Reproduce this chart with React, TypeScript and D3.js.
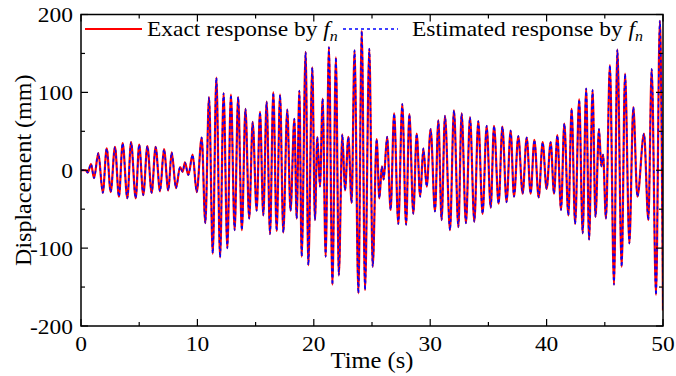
import React from "react";
import * as d3 from "d3";

// Time (s) of each turning point of the displacement record
const timeS = [
  0, 0.4, 0.58, 0.86, 1.12, 1.49, 1.87, 2.21, 2.55, 2.92, 3.26, 3.58, 3.98, 4.3, 4.7, 5.0,
  5.35, 5.7, 6.07, 6.41, 6.79, 7.13, 7.5, 7.79, 8.16, 8.51, 8.73, 8.93, 9.22, 9.59, 9.94,
  10.37, 10.68, 11.0, 11.32, 11.63, 11.95, 12.25, 12.57, 12.88, 13.2, 13.5, 13.82, 14.13,
  14.45, 14.75, 15.09, 15.38, 15.66, 15.95, 16.24, 16.52, 16.81, 17.1, 17.38, 17.72, 18.0,
  18.33, 18.53, 18.76, 18.96, 19.3, 19.53, 19.87, 20.1, 20.3, 20.53, 20.76, 21.02, 21.3,
  21.6, 21.9, 22.15, 22.45, 22.68, 22.97, 23.25, 23.5, 23.83, 24.12, 24.4, 24.77, 25.06,
  25.4, 25.63, 25.85, 26.0, 26.3, 26.6, 26.9, 27.26, 27.6, 27.93, 28.21, 28.55, 28.84,
  29.14, 29.41, 29.7, 30.04, 30.41, 30.7, 30.98, 31.27, 31.7, 32.04, 32.42, 32.7, 33.07,
  33.42, 33.79, 34.13, 34.5, 34.85, 35.2, 35.48, 35.88, 36.2, 36.56, 36.91, 37.2, 37.57,
  37.94, 38.29, 38.63, 38.95, 39.32, 39.66, 40.0, 40.35, 40.64, 40.92, 41.24, 41.52, 41.87,
  42.15, 42.45, 42.8, 43.1, 43.4, 43.65, 43.95, 44.2, 44.5, 44.7, 44.85, 45.1, 45.44, 45.79,
  46.08, 46.45, 46.74, 47.11, 47.45, 47.8, 48.37, 48.74, 49.03, 49.4, 49.73, 50,
];

// Exact response (mm) at those times
const exactMm = [
  0, 0, -3, 8, -10, 22, -29, 28, -28, 30, -34, 35, -36, 36, -36, 33,
  -32, 31, -29, 30, -27, 27, -26, 23, -23, 4, -2, 10, -6, 20, -28,
  42, -68, 94, -107, 119, -112, 99, -100, 97, -77, 94, -77, 79,
  -62, 62, -52, 75, -58, 88, -82, 100, -78, 97, -80, 78, -52,
  66, -62, 102, -111, 152, -122, 132, -64, 43, -21, 92, -111, 158,
  -147, 145, -135, 46, -26, 43, -42, 154, -158, 179, -154, 156, -124,
  40, -36, 5, -12, 43, -51, 73, -69, 85, -70, 72, -56, 47,
  -34, 28, -21, 53, -53, 64, -64, 70, -77, 77, -73, 73, -68,
  68, -66, 63, -56, 57, -48, 57, -43, 56, -41, 51, -34, 44,
  -30, 42, -30, 39, -35, 36, -24, 36, -30, 45, -51, 60, -58,
  79, -69, 91, -81, 105, -89, 103, -60, 53, 5, 20, -62, 135, -147,
  155, -124, 124, -94, 81, -34, 47, -64, 130, -160, 192, -180,
];

// Estimated response (mm): coincides with the exact one in the picture
const estimatedMm = exactMm.slice();

const xTicks = [0, 10, 20, 30, 40, 50];
const xMinorTicks = [5, 15, 25, 35, 45];
const yTicks = [-200, -100, 0, 100, 200];
const yMinorTicks = [-150, -50, 50, 150];
const legendLabels = ["Exact response by ", "Estimated response by "];
const xTitle = "Time (s)";
const yTitle = "Displacement (mm)";

const FONT = "'Liberation Serif', 'Times New Roman', serif";
const SX = 1.065; // horizontal stretch of the reference's lettering

export default function App() {
  const W = 676;
  const H = 376;
  const L = 81, R = 663, T = 14.5, B = 326;
  const x = d3.scaleLinear().domain([0, 50]).range([L, R]);
  const y = d3.scaleLinear().domain([-200, 200]).range([B, T]);

  const line = d3
    .line<number>()
    .x((_, i) => x(timeS[i]))
    .y((d) => y(d))
    .curve(d3.curveMonotoneX);

  const major = 7;
  const minor = 4;

  const st = (px: number, py: number) => `translate(${px},${py}) scale(${SX},1)`;

  return (
    <svg
      width={W}
      height={H}
      viewBox={`0 0 ${W} ${H}`}
      style={{ position: "absolute", left: 0, top: 0, background: "#fff" }}
      fontFamily={FONT}
    >
      <defs>
        <clipPath id="plotClip">
          <rect x={L} y={T} width={R - L} height={B - T} />
        </clipPath>
      </defs>
      <rect x={0} y={0} width={W} height={H} fill="#fff" />

      <g clipPath="url(#plotClip)">
        <path d={line(exactMm) || ""} fill="none" stroke="#ff0000" strokeWidth={2.2} strokeLinejoin="round" />
        <path d={line(estimatedMm) || ""} fill="none" stroke="#0000ff" strokeWidth={1.5} strokeDasharray="3,3" />
      </g>

      {/* legend */}
      <line x1={85} x2={142} y1={29} y2={29} stroke="#ff0000" strokeWidth={2} />
      <text transform={st(147, 36)} fontSize={22} fill="#000">
        {legendLabels[0]}
        <tspan fontStyle="italic">f</tspan>
        <tspan fontStyle="italic" fontSize={15} dy={5}>n</tspan>
      </text>
      <line x1={343} x2={398} y1={29} y2={29} stroke="#0000ff" strokeWidth={1.5} strokeDasharray="3,3" />
      <text transform={st(412, 36)} fontSize={22} fill="#000">
        {legendLabels[1]}
        <tspan fontStyle="italic">f</tspan>
        <tspan fontStyle="italic" fontSize={15} dy={5}>n</tspan>
      </text>

      {/* frame */}
      <rect x={L} y={T} width={R - L} height={B - T} fill="none" stroke="#000" strokeWidth={1.5} />

      {/* x ticks */}
      {xTicks.map((t) => (
        <g key={"xt" + t}>
          <line x1={x(t)} x2={x(t)} y1={B} y2={B - major} stroke="#000" strokeWidth={1.2} />
          <line x1={x(t)} x2={x(t)} y1={T} y2={T + major} stroke="#000" strokeWidth={1.2} />
          <text transform={st(x(t), 351)} fontSize={22} textAnchor="middle" fill="#000">{t}</text>
        </g>
      ))}
      {xMinorTicks.map((t) => (
        <g key={"xm" + t}>
          <line x1={x(t)} x2={x(t)} y1={B} y2={B - minor} stroke="#000" strokeWidth={1.2} />
          <line x1={x(t)} x2={x(t)} y1={T} y2={T + minor} stroke="#000" strokeWidth={1.2} />
        </g>
      ))}
      {/* y ticks */}
      {yTicks.map((v) => (
        <g key={"yt" + v}>
          <line x1={L} x2={L + major} y1={y(v)} y2={y(v)} stroke="#000" strokeWidth={1.2} />
          <line x1={R} x2={R - major} y1={y(v)} y2={y(v)} stroke="#000" strokeWidth={1.2} />
          <text transform={st(73, y(v))} dy="0.35em" fontSize={22} textAnchor="end" fill="#000">{v}</text>
        </g>
      ))}
      {yMinorTicks.map((v) => (
        <g key={"ym" + v}>
          <line x1={L} x2={L + minor} y1={y(v)} y2={y(v)} stroke="#000" strokeWidth={1.2} />
          <line x1={R} x2={R - minor} y1={y(v)} y2={y(v)} stroke="#000" strokeWidth={1.2} />
        </g>
      ))}

      <text transform={st((L + R) / 2, 368)} fontSize={23} textAnchor="middle" fill="#000">{xTitle}</text>
      <text transform={`translate(31,${(T + B) / 2}) rotate(-90)`} fontSize={24} textAnchor="middle" fill="#000">
        {yTitle}
      </text>
    </svg>
  );
}
